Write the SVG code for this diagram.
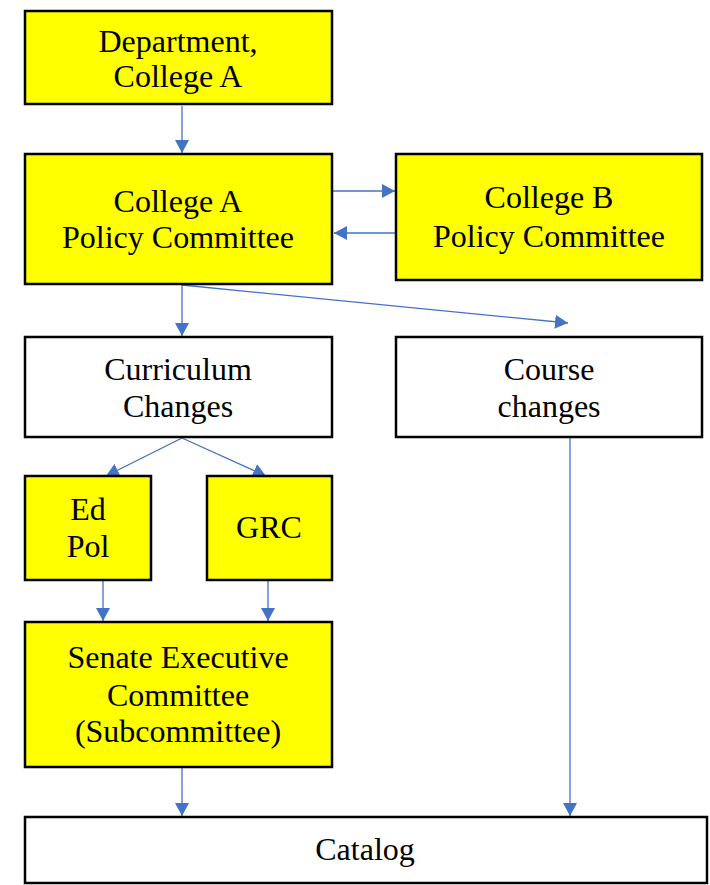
<svg xmlns="http://www.w3.org/2000/svg" width="710" height="885" viewBox="0 0 710 885">
<style>
.box{stroke:#000;stroke-width:2.5}
.y{fill:#ffff00}
.w{fill:#fff}
text{font-family:"Liberation Serif","Times New Roman",serif;font-size:32px;fill:#000;text-anchor:middle}
.c{stroke:#4472c4;stroke-width:1.3;fill:none;marker-end:url(#ah)}
</style>
<defs>
<marker id="ah" markerWidth="14" markerHeight="14" refX="13" refY="7" orient="auto" markerUnits="userSpaceOnUse">
<path d="M0,0 L13,7 L0,14 Z" fill="#4472c4"/>
</marker>
</defs>
<rect width="710" height="885" fill="#fff"/>
<g id="connectors">
<line class="c" x1="182" y1="106" x2="182" y2="153"/>
<line class="c" x1="333" y1="191" x2="395" y2="191"/>
<line class="c" x1="396" y1="233" x2="334" y2="233"/>
<line class="c" x1="182" y1="285" x2="182" y2="336"/>
<line class="c" x1="182" y1="285" x2="568" y2="323"/>
<line class="c" x1="182" y1="438" x2="106" y2="476"/>
<line class="c" x1="182" y1="438" x2="266" y2="476"/>
<line class="c" x1="103" y1="581" x2="103" y2="621"/>
<line class="c" x1="268" y1="581" x2="268" y2="621"/>
<line class="c" x1="182" y1="768" x2="182" y2="816"/>
<line class="c" x1="570" y1="438" x2="570" y2="816"/>
</g>
<g id="dept"><rect class="box y" x="25" y="11" width="307" height="93"/><text x="178" y="52">Department,</text><text x="178" y="87">College A</text></g>
<g id="collegeA"><rect class="box y" x="25" y="154" width="307" height="130"/><text x="178" y="212">College A</text><text x="178" y="248">Policy Committee</text></g>
<g id="collegeB"><rect class="box y" x="396" y="154" width="306" height="126"/><text x="549" y="208">College B</text><text x="549" y="247">Policy Committee</text></g>
<g id="curriculum"><rect class="box w" x="25" y="337" width="307" height="100"/><text x="178" y="380">Curriculum</text><text x="178" y="417">Changes</text></g>
<g id="course"><rect class="box w" x="396" y="337" width="306" height="100"/><text x="549" y="380">Course</text><text x="549" y="417">changes</text></g>
<g id="edpol"><rect class="box y" x="25" y="476" width="126" height="104"/><text x="88" y="520">Ed</text><text x="88" y="557">Pol</text></g>
<g id="grc"><rect class="box y" x="207" y="476" width="125" height="104"/><text x="269" y="538">GRC</text></g>
<g id="senate"><rect class="box y" x="25" y="622" width="307" height="145"/><text x="178" y="668">Senate Executive</text><text x="178" y="706">Committee</text><text x="178" y="742">(Subcommittee)</text></g>
<g id="catalog"><rect class="box w" x="25" y="817" width="682" height="66"/><text x="365" y="860">Catalog</text></g>
</svg>
